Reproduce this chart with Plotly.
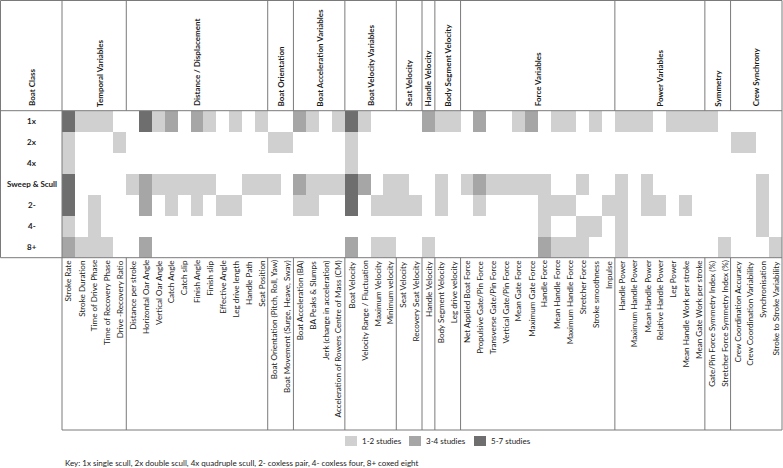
import plotly.graph_objects as go

W, H = 783, 468

boat_classes = ["1x", "2x", "4x", "Sweep & Scull", "2-", "4-", "8+"]

group_names = ["Temporal Variables", "Distance / Displacement", "Boat Orientation",
               "Boat Acceleration Variables", "Boat Velocity Variables", "Seat Velocity",
               "Handle Velocity", "Body Segment Velocity", "Force Variables",
               "Power Variables", "Symmetry", "Crew Synchrony"]
group_sizes = [5, 11, 2, 4, 4, 2, 1, 2, 12, 7, 2, 4]

variables = [
    "Stroke Rate", "Stroke Duration", "Time of Drive Phase", "Time of Recovery Phase",
    "Drive -Recovery Ratio",
    "Distance per stroke", "Horizontal Oar Angle", "Vertical Oar Angle", "Catch Angle",
    "Catch slip", "Finish Angle", "Finish slip", "Effective Angle", "Leg drive length",
    "Handle Path", "Seat Position",
    "Boat Orientation (Pitch, Roll, Yaw)", "Boat Movement (Surge, Heave, Sway)",
    "Boat Acceleration (BA)", "BA Peaks & Slumps", "Jerk (change in acceleration)",
    "Acceleration of Rowers Centre of Mass (CM)",
    "Boat Velocity", "Velocity Range / Fluctuation", "Maximum Velocity", "Minimum velocity",
    "Seat Velocity", "Recovery Seat Velocity",
    "Handle Velocity",
    "Body Segment Velocity", "Leg drive velocity",
    "Net Applied Boat Force", "Propulsive Gate/Pin Force", "Transverse Gate/Pin Force",
    "Vertical Gate/Pin Force", "Mean Gate Force", "Maximum Gate Force", "Handle Force",
    "Mean Handle Force", "Maximum Handle Force", "Stretcher Force", "Stroke smoothness",
    "Impulse",
    "Handle Power", "Maximum Handle Power", "Mean Handle Power", "Relative Handle Power",
    "Leg Power", "Mean Handle Work per stroke", "Mean Gate Work per stroke",
    "Gate/Pin Force Symmetry Index (%)", "Stretcher Force Symmetry Index (%)",
    "Crew Coordination Accuracy", "Crew Coordination Variability", "Synchronisation",
    "Stroke to Stroke Variability",
]

# study-count level per boat class: 0 none, 1 = 1-2 studies, 2 = 3-4 studies, 3 = 5-7 studies
level_1x = [3, 1, 1, 1, 0,  0, 3, 1, 2, 0, 2, 1, 0, 1, 0, 1,  0, 0,  2, 1, 0, 1,  3, 1, 0, 0,  0, 0,  2,  1, 1,
            0, 2, 0, 0, 1, 2, 0, 1, 1, 0, 1, 0,  1, 1, 1, 0, 1, 1, 1,  1, 0,  0, 0, 0, 0]
level_2x = [1, 0, 0, 0, 1,  0, 0, 0, 0, 0, 0, 0, 0, 0, 0, 0,  1, 1,  0, 0, 0, 0,  1, 0, 0, 0,  0, 0,  0,  0, 0,
            0, 0, 0, 0, 0, 0, 0, 0, 0, 0, 0, 0,  0, 0, 0, 0, 0, 0, 0,  0, 0,  1, 1, 0, 0]
level_4x = [1, 0, 0, 0, 0,  0, 0, 0, 0, 0, 0, 0, 0, 0, 0, 0,  0, 0,  0, 0, 0, 0,  1, 0, 0, 0,  0, 0,  0,  0, 0,
            0, 0, 0, 0, 0, 0, 0, 0, 0, 0, 0, 0,  0, 0, 0, 0, 0, 0, 0,  0, 0,  0, 0, 0, 0]
level_sweep = [3, 0, 0, 0, 0,  1, 2, 1, 1, 1, 1, 1, 0, 0, 1, 1,  1, 0,  2, 1, 1, 1,  3, 2, 0, 1,  1, 0,  0,  1, 0,
               1, 2, 1, 1, 1, 1, 1, 0, 0, 1, 0, 0,  1, 0, 1, 0, 0, 0, 0,  0, 0,  0, 0, 1, 0]
level_2m = [3, 0, 1, 0, 0,  0, 2, 0, 1, 0, 1, 0, 1, 1, 0, 0,  0, 0,  1, 1, 0, 0,  3, 0, 1, 1,  1, 1,  0,  1, 0,
            0, 1, 0, 0, 0, 0, 1, 1, 1, 0, 0, 1,  1, 0, 1, 1, 0, 1, 0,  0, 0,  0, 0, 1, 0]
level_4m = [1, 0, 1, 0, 0,  0, 0, 0, 0, 0, 0, 0, 0, 0, 0, 0,  0, 0,  0, 0, 0, 0,  0, 0, 0, 0,  0, 0,  0,  0, 0,
            0, 0, 0, 0, 0, 0, 1, 0, 0, 1, 1, 0,  1, 0, 0, 0, 0, 0, 0,  0, 0,  0, 0, 1, 0]
level_8p = [2, 1, 1, 1, 0,  0, 2, 0, 0, 0, 0, 0, 0, 0, 0, 0,  0, 0,  0, 0, 0, 0,  2, 0, 1, 1,  0, 0,  1,  0, 0,
            0, 0, 0, 0, 0, 0, 2, 1, 1, 1, 0, 0,  1, 0, 0, 0, 0, 0, 0,  0, 1,  0, 0, 0, 1]

legend_labels = ["1-2 studies", "3-4 studies", "5-7 studies"]
level_colors = ["#ffffff", "#d0d0d0", "#a6a6a6", "#6e6e6e"]
key_text = "Key: 1x single scull, 2x double scull, 4x quadruple scull, 2- coxless pair, 4- coxless four, 8+ coxed eight"

z = [level_1x, level_2x, level_4x, level_sweep, level_2m, level_4m, level_8p]
ncol = len(variables)
nrow = len(boat_classes)

# layout geometry (pixels)
GX0, GX1 = 62, 782
GY0, GY1 = 110.7, 257.7
LAB_BOT = 430
FONT = "Lato"
TXT = "#1a1a1a"
LINE = "#7a7a7a"

def py(p):
    return 1 - p / H

def px(p):
    return p / W

fig = go.Figure()
fig.add_trace(go.Heatmap(
    z=z, x=list(range(ncol)), y=list(range(nrow)),
    zmin=0, zmax=3,
    colorscale=[[0, level_colors[0]], [1/3, level_colors[1]], [2/3, level_colors[2]], [1, level_colors[3]]],
    showscale=False, hoverinfo="skip",
))

shapes = []
def line(x0, y0, x1, y1, xref="paper", yref="paper"):
    shapes.append(dict(type="line", x0=x0, y0=y0, x1=x1, y1=y1, xref=xref, yref=yref,
                       line=dict(color=LINE, width=1)))

# outer frame and horizontal rules
line(px(0.5), py(0.5), px(GX1), py(0.5))
line(px(0.5), py(0.5), px(0.5), py(GY1))
line(px(GX0), py(0.5), px(GX0), py(LAB_BOT))
line(px(GX1), py(0.5), px(GX1), py(LAB_BOT))
line(px(0.5), py(GY0), px(GX1), py(GY0))
line(px(0.5), py(GY1), px(GX1), py(GY1))
line(px(GX0), py(LAB_BOT), px(GX1), py(LAB_BOT))

annotations = []
# group separators and group titles
start = 0
for name, size in zip(group_names, group_sizes):
    end = start + size
    if start > 0:
        b = start - 0.5
        line(b, py(0.5), b, py(GY0), xref="x")
        line(b, py(GY1), b, py(LAB_BOT), xref="x")
    cx = (start + end - 1) / 2
    if name == "Temporal Variables":
        cx += 0.45
    annotations.append(dict(text="<b>%s</b>" % name, x=cx, xref="x", y=py(108.5), yref="paper",
                            xanchor="center", yanchor="bottom", textangle=-90, showarrow=False,
                            font=dict(family=FONT, size=8, color=TXT)))
    start = end

annotations.append(dict(text="<b>Boat Class</b>", x=px(31.5), xref="paper", y=py(108.5), yref="paper",
                        xanchor="center", yanchor="bottom", textangle=-90, showarrow=False,
                        font=dict(family=FONT, size=8, color=TXT)))

for r, bc in enumerate(boat_classes):
    annotations.append(dict(text="<b>%s</b>" % bc, x=px(31.5), xref="paper", y=r, yref="y",
                            xanchor="center", yanchor="middle", showarrow=False,
                            font=dict(family=FONT, size=8, color=TXT)))

for i, v in enumerate(variables):
    annotations.append(dict(text=v, x=i, xref="x", y=py(258.5), yref="paper",
                            xanchor="center", yanchor="top", textangle=-90, showarrow=False,
                            font=dict(family=FONT, size=8.1, color=TXT)))

# legend
leg_x = [345, 409, 474]
for lx, lab, col in zip(leg_x, legend_labels, level_colors[1:]):
    shapes.append(dict(type="rect", x0=px(lx), x1=px(lx + 12), y0=py(436), y1=py(446),
                       xref="paper", yref="paper", fillcolor=col, line=dict(width=0)))
    annotations.append(dict(text=lab, x=px(lx + 14.5), xref="paper", y=py(441), yref="paper",
                            xanchor="left", yanchor="middle", showarrow=False,
                            font=dict(family=FONT, size=8, color=TXT)))

annotations.append(dict(text=key_text, x=px(63), xref="paper", y=py(462.5), yref="paper",
                        xanchor="left", yanchor="middle", showarrow=False,
                        font=dict(family=FONT, size=8, color=TXT)))

fig.update_layout(
    width=W, height=H, margin=dict(l=0, r=0, t=0, b=0),
    paper_bgcolor="white", plot_bgcolor="white",
    xaxis=dict(domain=[px(GX0), px(GX1)], range=[-0.5, ncol - 0.5], visible=False, fixedrange=True),
    yaxis=dict(domain=[py(GY1), py(GY0)], range=[nrow - 0.5, -0.5], visible=False, fixedrange=True),
    shapes=shapes, annotations=annotations, showlegend=False,
)

fig.write_html("out.html", config={"displayModeBar": False},
               post_script="document.body.style.margin='0';document.body.style.overflow='hidden';")
